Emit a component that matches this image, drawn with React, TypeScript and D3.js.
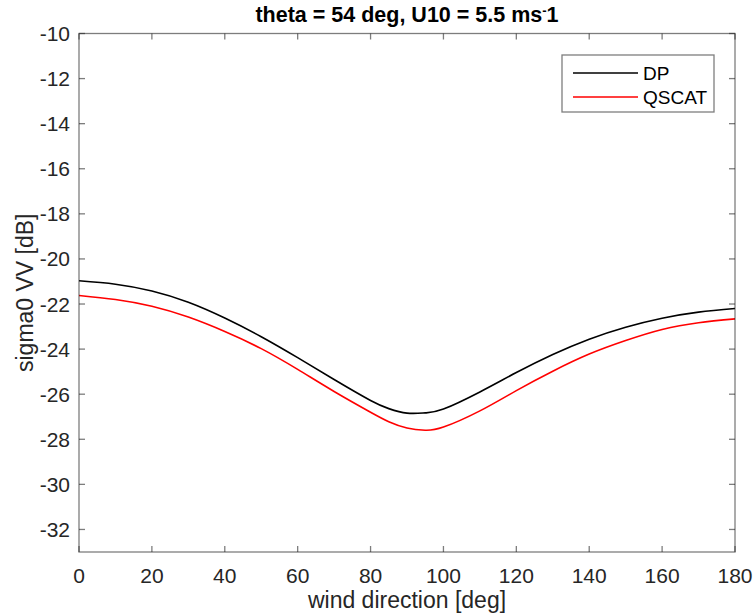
import { useEffect, useRef } from 'react';
import * as d3 from 'd3';

// wind direction [deg]
const directions = [0, 10, 20, 30, 40, 50, 60, 70, 80, 85, 90, 95, 100, 110, 120, 130, 140, 150, 160, 170, 180];
const dpValues = [-20.97, -21.12, -21.42, -21.92, -22.62, -23.45, -24.38, -25.35, -26.28, -26.64, -26.84, -26.83, -26.66, -25.9, -25.04, -24.24, -23.56, -23.03, -22.63, -22.36, -22.2];
const qscatValues = [-21.62, -21.8, -22.1, -22.58, -23.22, -23.98, -24.9, -25.88, -26.8, -27.22, -27.5, -27.6, -27.46, -26.74, -25.84, -24.98, -24.22, -23.62, -23.13, -22.83, -22.66];

const xTicks = [0, 20, 40, 60, 80, 100, 120, 140, 160, 180];
const yTicks = [-10, -12, -14, -16, -18, -20, -22, -24, -26, -28, -30, -32];

const series = [
  { name: 'DP', color: '#000000', values: dpValues },
  { name: 'QSCAT', color: '#ff0000', values: qscatValues }
];

const App = () => {
  const svgRef = useRef<SVGSVGElement>(null);

  useEffect(() => {
    if (!svgRef.current) return;
    const W = 754;
    const H = 616;
    const margin = { top: 33.5, right: 19, bottom: 64, left: 79 };
    const width = W - margin.left - margin.right;
    const height = H - margin.top - margin.bottom;
    const axisColor = '#262626';
    const font = 'Liberation Sans, Arial, Helvetica, sans-serif';

    d3.select(svgRef.current).selectAll('*').remove();
    const svg = d3.select(svgRef.current)
      .attr('width', W)
      .attr('height', H)
      .style('font-family', font);

    const g = svg.append('g').attr('transform', `translate(${margin.left},${margin.top})`);

    const x = d3.scaleLinear().domain([0, 180]).range([0, width]);
    const y = d3.scaleLinear().domain([-33, -10]).range([height, 0]);

    // curves
    const line = d3.line<number>()
      .x((_, i) => x(directions[i]))
      .y(d => y(d))
      .curve(d3.curveNatural);

    series.forEach(s => {
      g.append('path')
        .datum(s.values)
        .attr('d', line)
        .attr('fill', 'none')
        .attr('stroke', s.color)
        .attr('stroke-width', 1.6);
    });

    // box
    g.append('rect')
      .attr('x', 0).attr('y', 0)
      .attr('width', width).attr('height', height)
      .attr('fill', 'none')
      .attr('stroke', axisColor)
      .attr('stroke-opacity', 0.6)
      .attr('stroke-width', 1.3);

    const tick = 6;
    xTicks.forEach(t => {
      g.append('line').attr('x1', x(t)).attr('x2', x(t)).attr('y1', height).attr('y2', height - tick)
        .attr('stroke', axisColor).attr('stroke-opacity', 0.6).attr('stroke-width', 1.3);
      g.append('line').attr('x1', x(t)).attr('x2', x(t)).attr('y1', 0).attr('y2', tick)
        .attr('stroke', axisColor).attr('stroke-opacity', 0.6).attr('stroke-width', 1.3);
      g.append('text')
        .attr('x', x(t)).attr('y', height + 31)
        .attr('text-anchor', 'middle')
        .style('font-size', '21px')
        .style('fill', axisColor)
        .text(t);
    });

    yTicks.forEach(t => {
      g.append('line').attr('x1', 0).attr('x2', tick).attr('y1', y(t)).attr('y2', y(t))
        .attr('stroke', axisColor).attr('stroke-opacity', 0.6).attr('stroke-width', 1.3);
      g.append('line').attr('x1', width).attr('x2', width - tick).attr('y1', y(t)).attr('y2', y(t))
        .attr('stroke', axisColor).attr('stroke-opacity', 0.6).attr('stroke-width', 1.3);
      g.append('text')
        .attr('x', -9).attr('y', y(t))
        .attr('dy', '0.36em')
        .attr('text-anchor', 'end')
        .style('font-size', '21px')
        .style('fill', axisColor)
        .text(t);
    });

    // title
    const title = svg.append('text')
      .attr('x', margin.left + width / 2)
      .attr('y', 22)
      .attr('text-anchor', 'middle')
      .style('font-size', '21.5px')
      .style('font-weight', 'bold')
      .style('fill', '#000');
    title.append('tspan').text('theta = 54 deg, U10 = 5.5 ms');
    title.append('tspan').attr('dy', -7).style('font-size', '13px').text('-');
    title.append('tspan').attr('dy', 7).text('1');

    // axis labels
    svg.append('text')
      .attr('x', margin.left + width / 2)
      .attr('y', H - 8)
      .attr('text-anchor', 'middle')
      .style('font-size', '23px')
      .style('fill', axisColor)
      .text('wind direction [deg]');

    svg.append('text')
      .attr('transform', `translate(33,${margin.top + height / 2}) rotate(-90)`)
      .attr('text-anchor', 'middle')
      .style('font-size', '23px')
      .style('fill', axisColor)
      .text('sigma0 VV [dB]');

    // legend
    const lg = svg.append('g').attr('transform', 'translate(562,55)');
    lg.append('rect')
      .attr('width', 152).attr('height', 57)
      .attr('fill', '#fff')
      .attr('stroke', axisColor)
      .attr('stroke-opacity', 0.6)
      .attr('stroke-width', 1.3);
    series.forEach((s, i) => {
      const ly = 18 + i * 24;
      lg.append('line')
        .attr('x1', 11).attr('x2', 76).attr('y1', ly).attr('y2', ly)
        .attr('stroke', s.color).attr('stroke-width', 1.6);
      lg.append('text')
        .attr('x', 81).attr('y', ly).attr('dy', '0.36em')
        .style('font-size', '19px')
        .style('fill', '#000')
        .text(s.name);
    });
  }, []);

  return (
    <div style={{ position: 'absolute', left: 0, top: 0 }}>
      <svg ref={svgRef}></svg>
    </div>
  );
};

export default App;
